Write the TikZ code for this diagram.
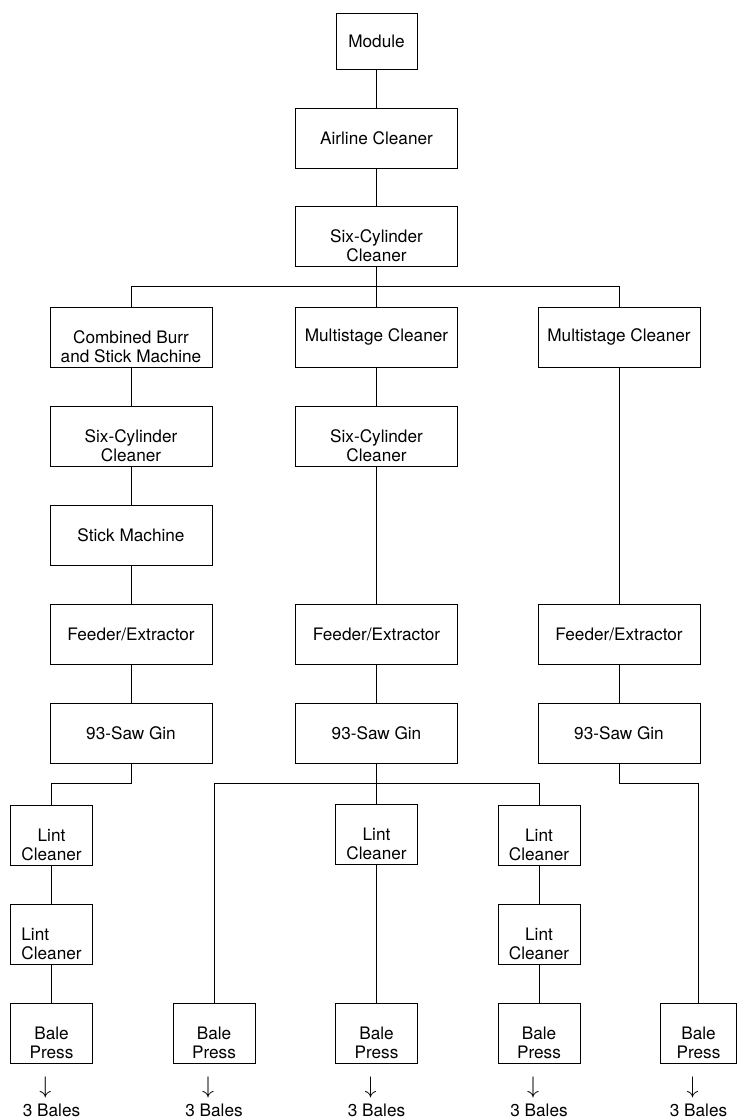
\documentclass[tikz,border=0pt]{standalone}
\usepackage{fontspec}
\setmainfont{TeX Gyre Heros}
\usetikzlibrary{positioning}

\newcommand{\topgap}{\rule{0pt}{16pt}}

\begin{document}
\begin{tikzpicture}[line width=0.5pt, node distance=19pt,
    every node/.style={draw, rectangle, minimum height=30pt, inner sep=2pt, align=center, font=\fontsize{8.6}{9.6}\selectfont},
    wide/.style={minimum width=81pt},
    narrow/.style={minimum width=41pt},
    outlbl/.style={draw=none, minimum height=0pt, inner sep=0pt}]
    \useasboundingbox (0,0) rectangle (369pt,-559.5pt);

    % Feed line
    \node (module) [minimum width=40.5pt, minimum height=28pt] at (188.25pt,-20.5pt) {Module};
    \node (airline) [wide, below=of module] {Airline Cleaner};
    \node (six1) [wide, below=18.5pt of airline] {\topgap Six-Cylinder\\Cleaner};

    % Three cleaning lines
    \node (msB) [wide, below=20pt of six1] {Multistage Cleaner};
    \node (burr) [wide, left=41.25pt of msB] {\topgap Combined Burr\\and Stick Machine};
    \node (msC) [wide, right=39.75pt of msB] {Multistage Cleaner};

    \node (sixA) [wide, below=of burr] {\topgap Six-Cylinder\\Cleaner};
    \node (stick) [wide, below=of sixA] {Stick Machine};
    \node (feedA) [wide, below=of stick] {Feeder/Extractor};
    \node (ginA) [wide, below=of feedA] {93-Saw Gin};

    \node (sixB) [wide, below=of msB] {\topgap Six-Cylinder\\Cleaner};
    \node (feedB) [wide, right=41.25pt of feedA] {Feeder/Extractor};
    \node (ginB) [wide, right=41.25pt of ginA] {93-Saw Gin};

    \node (feedC) [wide, right=39.75pt of feedB] {Feeder/Extractor};
    \node (ginC) [wide, right=39.75pt of ginB] {93-Saw Gin};

    % Lint cleaning and pressing
    \node (lint1) [narrow, below=20.5pt of ginA, xshift=-39.75pt] {\topgap Lint\\Cleaner};
    \node (lint2) [narrow, below=of lint1, align=left] {\topgap Lint\\Cleaner};
    \node (bale1) [narrow, below=of lint2] {\topgap Bale\\Press};
    \node (bale2) [narrow, right=39.75pt of bale1] {\topgap Bale\\Press};
    \node (bale3) [narrow, right=39.75pt of bale2] {\topgap Bale\\Press};
    \node (bale4) [narrow, right=39.75pt of bale3] {\topgap Bale\\Press};
    \node (bale5) [minimum width=38pt, right=39.75pt of bale4] {\topgap Bale\\Press};
    \node (lint3) [narrow, above=69pt of bale3] {\topgap Lint\\Cleaner};
    \node (lint5) [narrow, above=of bale4] {\topgap Lint\\Cleaner};
    \node (lint4) [narrow, above=of lint5] {\topgap Lint\\Cleaner};

    % Output
    \node (out1) [outlbl, below=6.5pt of bale1] {\kern-6pt{\large$\downarrow$}\\[1.8pt]3 Bales};
    \node (out2) [outlbl, below=6.5pt of bale2] {\kern-6pt{\large$\downarrow$}\\[1.8pt]3 Bales};
    \node (out3) [outlbl, below=6.5pt of bale3] {\kern-6pt{\large$\downarrow$}\\[1.8pt]3 Bales};
    \node (out4) [outlbl, below=6.5pt of bale4] {\kern-6pt{\large$\downarrow$}\\[1.8pt]3 Bales};
    \node (out5) [outlbl, below=6.5pt of bale5] {\kern-6pt{\large$\downarrow$}\\[1.8pt]3 Bales};

    % Connectors
    \draw (module) -- (airline);
    \draw (airline) -- (six1);
    \draw (six1) -- (msB);
    \draw (burr.north) -- ++(0,10pt) -| (msC.north);

    \draw (burr) -- (sixA);
    \draw (sixA) -- (stick);
    \draw (stick) -- (feedA);
    \draw (feedA) -- (ginA);
    \draw (msB) -- (sixB);
    \draw (sixB) -- (feedB);
    \draw (feedB) -- (ginB);
    \draw (msC) -- (feedC);
    \draw (feedC) -- (ginC);

    \draw (ginA.south) -- ++(0,-10pt) -| (lint1.north);
    \draw (lint1) -- (lint2);
    \draw (lint2) -- (bale1);

    \path (ginB.south) ++(0,-10pt) coordinate (busB);
    \draw (ginB) -- (lint3);
    \draw (bale2.north) |- (busB) -| (lint4.north);
    \draw (lint3) -- (bale3);
    \draw (lint4) -- (lint5);
    \draw (lint5) -- (bale4);

    \draw (ginC.south) -- ++(0,-10pt) -| (bale5.north);
\end{tikzpicture}
\end{document}
